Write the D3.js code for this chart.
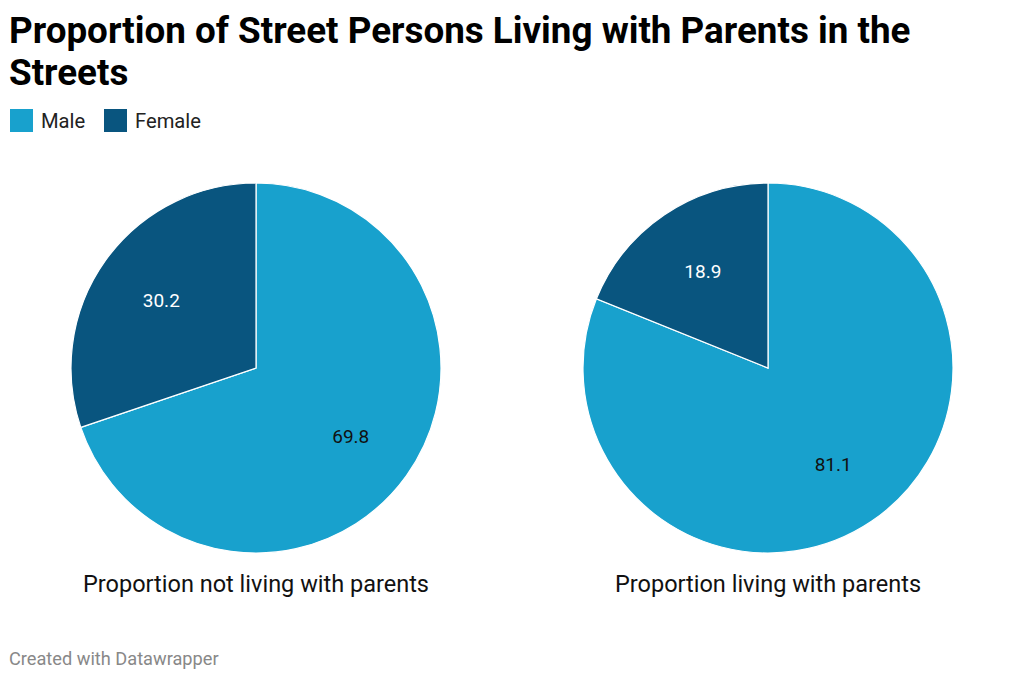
<!DOCTYPE html>
<html><head><meta charset="utf-8">
<script src="https://cdn.jsdelivr.net/npm/d3@7"></script>
<style>body{margin:0;background:#fff;font-family:Roboto,sans-serif}</style>
</head><body>
<svg id="c" width="1024" height="678"></svg>
<script>
const titleLines = ["Proportion of Street Persons Living with Parents in the", "Streets"];
const series = ["Male", "Female"];
const colors = ["#18a1cd", "#09557f"];
const panels = ["Proportion not living with parents", "Proportion living with parents"];
const maleValues = [69.8, 81.1];
const femaleValues = [30.2, 18.9];
const footer = "Created with Datawrapper";

const svg = d3.select("#c");
svg.append("text").attr("x", 9).attr("y", 0).attr("font-size", 36.8).attr("font-weight", 700).attr("fill", "#000")
  .selectAll("tspan").data(titleLines).join("tspan").attr("x", 9).attr("y", (d, i) => 43 + i * 42).text(d => d);

const color = d3.scaleOrdinal().domain(series).range(colors);
const leg = svg.append("g");
const legX = [10, 104];
series.forEach((s, i) => {
  leg.append("rect").attr("x", legX[i]).attr("y", 109).attr("width", 23).attr("height", 23).attr("fill", color(s));
  leg.append("text").attr("x", legX[i] + 31).attr("y", 128).attr("font-size", 20.2).attr("fill", "#222").text(s);
});

const x = d3.scalePoint().domain(panels).range([256, 768]);
const r = 185, cy = 368;
const pie = d3.pie().sort(null).value(d => d.v);
const arc = d3.arc().innerRadius(0).outerRadius(r);
const labelArc = d3.arc().innerRadius(r * 0.63).outerRadius(r * 0.63);

panels.forEach((p, i) => {
  const data = [{k: "Male", v: maleValues[i]}, {k: "Female", v: femaleValues[i]}];
  const g = svg.append("g").attr("transform", `translate(${x(p)},${cy})`);
  const arcs = pie(data);
  g.selectAll("path").data(arcs).join("path").attr("d", arc).attr("fill", d => color(d.data.k))
    .attr("stroke", "#fff").attr("stroke-width", 1.2);
  g.selectAll("text.v").data(arcs).join("text").attr("class", "v")
    .attr("transform", d => `translate(${labelArc.centroid(d)})`)
    .attr("text-anchor", "middle").attr("dy", "0.35em").attr("font-size", 19)
    .attr("fill", d => d.data.k === "Female" ? "#fff" : "#111").text(d => d.data.v.toFixed(1));
  svg.append("text").attr("x", x(p)).attr("y", 592).attr("text-anchor", "middle").attr("font-size", 23.5)
    .attr("fill", "#111").text(p);
});

svg.append("text").attr("x", 9).attr("y", 665).attr("font-size", 18.2).attr("fill", "#888").text(footer);
</script>
</body></html>
